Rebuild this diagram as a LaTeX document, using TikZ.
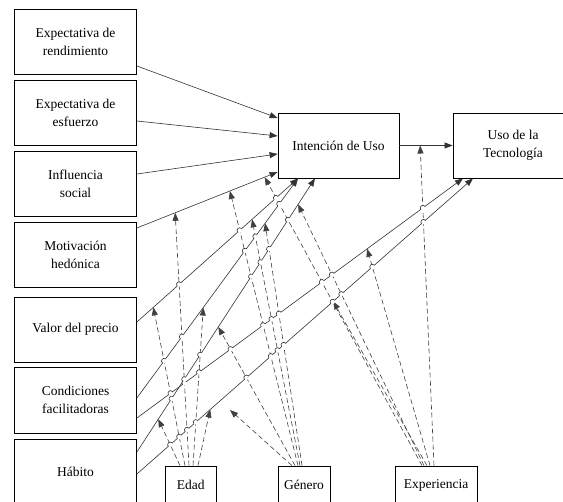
\documentclass[tikz,border=0pt]{standalone}
\usepackage{fontspec}
\setmainfont{Liberation Serif}
\usetikzlibrary{calc,arrows.meta,intersections}
\newcommand\hopmark[1]{%
  \fill[white] (#1) circle[radius=2.3pt];
  \draw[black!80,line width=0.6pt] ($(#1)+(\hopang:2.6pt)$)
    .. controls +(\hopangA:3.4pt) and +(\hopangA:3.4pt) .. ($(#1)+(\hopangB:2.6pt)$);
}
\newcommand\hopline[3]{%
  \path let \p1=($(#3)-(#2)$), \n1={atan2(\y1,\x1)} in
    \pgfextra{\pgfmathsetmacro\tmpa{\n1}\xdef\hopang{\tmpa}};
  \pgfmathsetmacro\tmpb{\hopang+90}\xdef\hopangA{\tmpb}%
  \pgfmathsetmacro\tmpc{\hopang+180}\xdef\hopangB{\tmpc}%
  \foreach \d in \dashlist {%
    \path[name intersections={of=#1 and \d, name=ip, total=\t}]
      \pgfextra{\xdef\hopt{\t}};
    \ifnum\hopt>0
      \foreach \k in {1,...,\hopt}{\hopmark{ip-\k}}%
    \fi
  }%
}
\def\dashlist{d1,d2,d3,d4,d5,d6,d7,d8,d9,d10,d11,d12,d13,d14,d15}
\begin{document}
\begin{tikzpicture}[x=1pt,y=-1pt,
  box/.style={draw=black,line width=0.8pt,minimum width=122pt,minimum height=65pt,
    align=center,inner sep=0pt,font=\fontsize{13.5}{18}\selectfont},
  sbox/.style={draw=black,line width=0.8pt,minimum height=38pt,inner sep=0pt,
    font=\fontsize{13.5}{18}\selectfont},
  rel/.style={draw=black!80,line width=0.6pt,-{Triangle[length=8pt,width=6pt]}},
  mod/.style={draw=black!75,line width=0.6pt,dash pattern=on 5pt off 3pt,
    -{Triangle[length=8pt,width=6pt]}}
]
\clip (0,0) rectangle (563,502);
\fill[white] (0,0) rectangle (563,502);

% left construct boxes
\node[box] (b1) at (75.5,41.5) {Expectativa de\\rendimiento};
\node[box] (b2) at (75.5,112.5) {Expectativa de\\esfuerzo};
\node[box] (b3) at (75.5,183.5) {Influencia\\social};
\node[box] (b4) at (75.5,254.5) {Motivación\\hedónica};
\node[box] (b5) at (75.5,329.5) {Valor del precio};
\node[box,minimum height=66pt] (b6) at (75.5,400) {Condiciones\\facilitadoras};
\node[box] (b7) at (75.5,471.5) {Hábito};

% outcome boxes
\node[box,minimum width=121pt] (int) at (338.5,145.5) {Intención de Uso};
\node[box,minimum width=120pt] (uso) at (513,145.5) {Uso de la\\Tecnología};

% moderators
\node[sbox,minimum width=51.5pt] (edad) at (190.75,485) {Edad};
\node[sbox,minimum width=52pt] (gen) at (304,485) {Género};
\node[sbox,minimum width=82pt] (exp) at (436,485) {Experiencia};

% end points of the main relations
\coordinate (s1a) at ($(b1.east)+(0,24.5)$);  \coordinate (s1b) at ($(int.west)+(0,-27.5)$);
\coordinate (s2a) at ($(b2.east)+(0,8.5)$);   \coordinate (s2b) at ($(int.west)+(0,-9.5)$);
\coordinate (s3a) at ($(b3.east)+(0,-9.5)$);  \coordinate (s3b) at ($(int.west)+(0,8.5)$);
\coordinate (s4a) at ($(b4.east)+(0,-26.5)$); \coordinate (s4b) at ($(int.west)+(0,26.5)$);
\coordinate (s5a) at ($(b5.east)+(0,-7.5)$);  \coordinate (s5b) at ($(int.south)+(-40.5,0)$);
\coordinate (s6a) at ($(b6.east)+(0,-2)$);    \coordinate (s6b) at ($(int.south)+(-40.5,0)$);
\coordinate (s7a) at ($(b6.east)+(0,18)$);    \coordinate (s7b) at ($(uso.south)+(-50,0)$);
\coordinate (s8a) at ($(b7.east)+(0,-19.5)$); \coordinate (s8b) at ($(int.south)+(-23.5,0)$);
\coordinate (s9a) at ($(b7.east)+(0,2.5)$);   \coordinate (s9b) at ($(uso.south)+(-40,0)$);

% main relations
\draw[rel] (s1a) -- (s1b);
\draw[rel] (s2a) -- (s2b);
\draw[rel] (s3a) -- (s3b);
\draw[rel,name path=s4] (s4a) -- (s4b)
  coordinate[pos=0.272] (hmA) coordinate[pos=0.661] (hmG) coordinate[pos=0.908] (hmE);
\draw[rel,name path=s5] (s5a) -- (s5b)
  coordinate[pos=0.102] (pvA) coordinate[pos=0.715] (pvG);
\draw[rel,name path=s6] (s6a) -- (s6b)
  coordinate[pos=0.412] (fiA) coordinate[pos=0.796] (fiG);
\draw[rel,name path=s7] (s7a) -- (s7b)
  coordinate[pos=0.706] (fuE);
\draw[rel,name path=s8] (s8a) -- (s8b)
  coordinate[pos=0.12] (hiA) coordinate[pos=0.457] (hiG) coordinate[pos=0.905] (hiE);
\draw[rel,name path=s9] (s9a) -- (s9b)
  coordinate[pos=0.218] (huA) coordinate[pos=0.584] (huE);
\draw[rel] (int.east) -- (uso.west) coordinate[pos=0.39] (iuE);
\coordinate (huG) at (230,410);

% start points of the moderating effects
\coordinate (a1) at ($(edad.north)+(-10.75,0)$);
\coordinate (a2) at ($(edad.north)+(-5.75,0)$);
\coordinate (a3) at ($(edad.north)+(-1.75,0)$);
\coordinate (a4) at ($(edad.north)+(2.25,0)$);
\coordinate (a5) at ($(edad.north)+(7.25,0)$);
\coordinate (g1) at ($(gen.north)+(-12,0)$);
\coordinate (g2) at ($(gen.north)+(-9,0)$);
\coordinate (g3) at ($(gen.north)+(-6,0)$);
\coordinate (g4) at ($(gen.north)+(-4,0)$);
\coordinate (g5) at ($(gen.north)+(-2,0)$);
\coordinate (e1) at ($(exp.north)+(-14,0)$);
\coordinate (e2) at ($(exp.north)+(-12,0)$);
\coordinate (e3) at ($(exp.north)+(-9,0)$);
\coordinate (e4) at ($(exp.north)+(-6,0)$);
\coordinate (e5) at ($(exp.north)+(-2,0)$);

% moderating effects
\foreach \n/\s/\t in {d1/a1/hiA,d2/a2/pvA,d3/a3/hmA,d4/a4/fiA,d5/a5/huA,
                      d6/g1/huG,d7/g2/hiG,d8/g3/hmG,d9/g4/pvG,d10/g5/fiG,
                      d11/e1/hmE,d12/e2/hiE,d13/e3/huE,d14/e4/fuE,d15/e5/iuE}{
  \draw[mod] (\s) -- (\t);
  \path[name path global=\n] (\s) -- ($(\t)!6pt!(\s)$);
}

% line hops where the relations pass over the moderating effects
\hopline{s4}{s4a}{s4b}
\hopline{s5}{s5a}{s5b}
\hopline{s6}{s6a}{s6b}
\hopline{s7}{s7a}{s7b}
\hopline{s8}{s8a}{s8b}
\hopline{s9}{s9a}{s9b}
\end{tikzpicture}
\end{document}
